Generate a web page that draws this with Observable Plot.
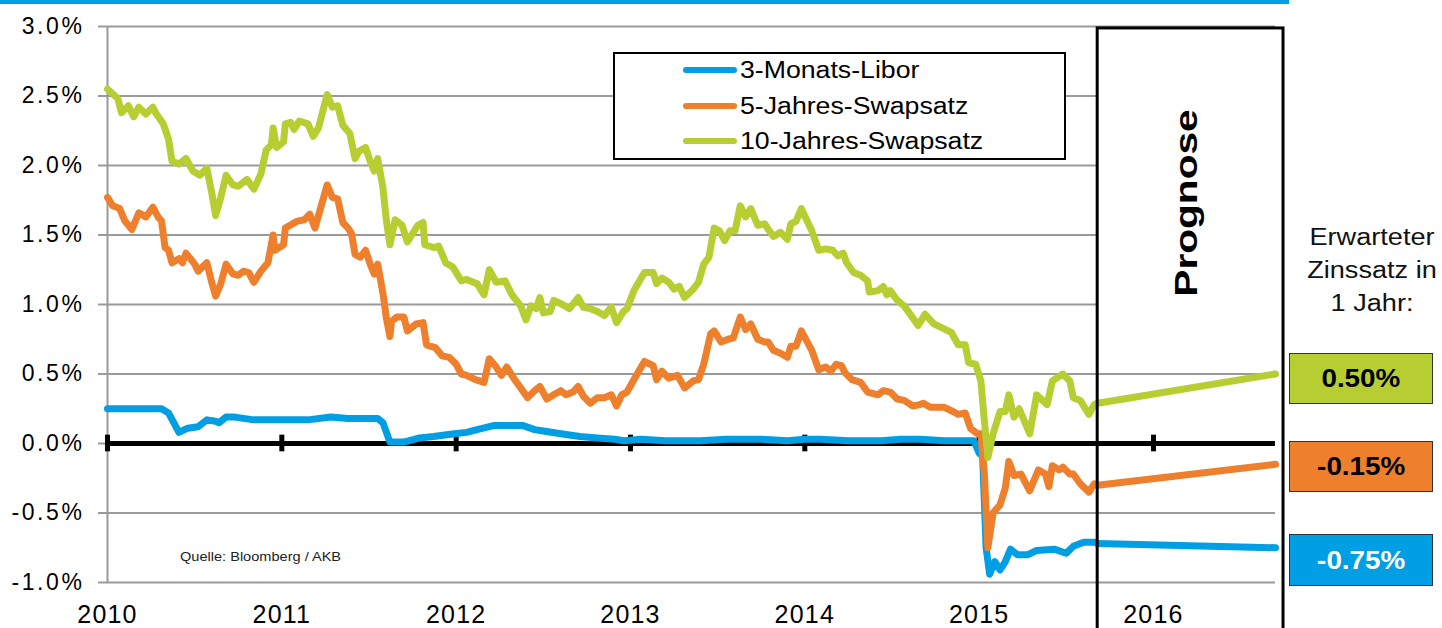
<!DOCTYPE html>
<html>
<head>
<meta charset="utf-8">
<script src="https://cdn.jsdelivr.net/npm/d3@7"></script>
<script src="https://cdn.jsdelivr.net/npm/@observablehq/plot@0.6"></script>
<style>
  html, body { margin: 0; padding: 0; background: #fff; }
  body { font-family: "Liberation Sans", Arial, Helvetica, sans-serif; color: #111; }
  #wrap { position: relative; width: 1442px; height: 628px; overflow: hidden; }
  #wrap > svg { position: absolute; left: 0; top: 0; }
  #wrap g[aria-label="y-axis tick label"] text { letter-spacing: 2.6px; }
  #wrap g[aria-label="x-axis tick label"] text { letter-spacing: 1.2px; }
  .abs { position: absolute; }
  #topbar { left: 0; top: 0; width: 1289px; height: 3.5px; background: #009FE3; }
  #legend { left: 613px; top: 52px; width: 453px; height: 108px; box-sizing: border-box;
            border: 2px solid #000; background: #fff; }
  .swatch { position: absolute; left: 68px; width: 54px; height: 6px; border-radius: 3px; }
  .ltext { position: absolute; left: 125px; height: 30px; line-height: 30px; font-size: 23px;
           white-space: nowrap; transform: scaleX(1.16); transform-origin: 0 50%; color: #000; }
  #prognose { left: 1086px; top: 183px; width: 200px; height: 40px; line-height: 40px; text-align: center;
              font-weight: bold; font-size: 32px; color: #000; transform: rotate(-90deg) scaleX(1.27);
              transform-origin: 50% 50%; white-space: nowrap; }
  #expected { left: 1272px; top: 221px; width: 200px; text-align: center; font-size: 23px; line-height: 33px;
              color: #111; transform: scaleX(1.18); transform-origin: 50% 0; }
  .vbox { position: absolute; left: 1289px; width: 144px; box-sizing: border-box; border: 1.5px solid #333;
          display: flex; align-items: center; justify-content: center; font-weight: bold; font-size: 26px; }
  .vbox span { display: inline-block; transform: scaleX(1.07); }
  #quelle { left: 180px; top: 550px; font-size: 13px; line-height: 13px; color: #222; white-space: nowrap;
            transform: scaleX(1.12); transform-origin: 0 0; }
</style>
</head>
<body>
<div id="wrap"></div>
<script>
// ---------------- data ----------------
const seriesNames = ["3-Monats-Libor", "5-Jahres-Swapsatz", "10-Jahres-Swapsatz"];
const seriesColors = ["#009FE3", "#EE7F2C", "#B7CE33"];
const yTicks = [-1, -0.5, 0, 0.5, 1, 1.5, 2, 2.5, 3];
const years = [2010, 2011, 2012, 2013, 2014, 2015, 2016];

// [decimal year, percent]
const libor3m = [
[2010.00,0.25],[2010.15,0.25],[2010.31,0.25],[2010.35,0.22],[2010.41,0.08],[2010.46,0.11],[2010.52,0.12],
[2010.57,0.17],[2010.62,0.16],[2010.64,0.15],[2010.68,0.19],[2010.73,0.19],[2010.84,0.17],[2011.03,0.17],
[2011.15,0.17],[2011.28,0.19],[2011.38,0.18],[2011.55,0.18],[2011.58,0.15],[2011.62,0.01],[2011.70,0.01],
[2011.79,0.04],[2011.87,0.05],[2011.99,0.07],[2012.06,0.08],[2012.12,0.10],[2012.22,0.13],[2012.38,0.13],
[2012.45,0.10],[2012.50,0.09],[2012.60,0.07],[2012.71,0.05],[2012.81,0.04],[2012.91,0.03],[2012.96,0.02],
[2013.06,0.03],[2013.20,0.02],[2013.40,0.02],[2013.55,0.03],[2013.75,0.03],[2013.90,0.02],[2014.00,0.03],
[2014.09,0.03],[2014.25,0.02],[2014.44,0.02],[2014.55,0.03],[2014.66,0.03],[2014.80,0.02],[2014.94,0.02],
[2014.97,0.02],[2015.00,-0.07],[2015.02,-0.09],[2015.04,-0.75],[2015.06,-0.94],[2015.09,-0.85],[2015.12,-0.91],
[2015.15,-0.85],[2015.18,-0.76],[2015.22,-0.80],[2015.28,-0.80],[2015.33,-0.77],[2015.43,-0.76],[2015.50,-0.79],
[2015.54,-0.74],[2015.60,-0.71],[2015.67,-0.71],[2015.68,-0.72]
];

const swap5y = [
[2010.00,1.77],[2010.03,1.71],[2010.07,1.69],[2010.10,1.60],[2010.14,1.54],[2010.18,1.66],[2010.22,1.63],
[2010.26,1.70],[2010.29,1.63],[2010.31,1.60],[2010.33,1.41],[2010.35,1.39],[2010.37,1.30],[2010.41,1.33],
[2010.43,1.30],[2010.45,1.37],[2010.50,1.29],[2010.52,1.24],[2010.57,1.30],[2010.60,1.15],[2010.62,1.06],
[2010.65,1.15],[2010.68,1.29],[2010.72,1.22],[2010.75,1.21],[2010.78,1.24],[2010.81,1.23],[2010.84,1.16],
[2010.88,1.24],[2010.92,1.30],[2010.95,1.50],[2010.96,1.39],[2011.01,1.43],[2011.02,1.55],[2011.06,1.58],
[2011.09,1.60],[2011.13,1.61],[2011.16,1.65],[2011.19,1.55],[2011.26,1.86],[2011.29,1.77],[2011.32,1.76],
[2011.35,1.59],[2011.38,1.55],[2011.40,1.51],[2011.42,1.36],[2011.45,1.34],[2011.48,1.39],[2011.51,1.28],
[2011.53,1.22],[2011.55,1.29],[2011.58,1.08],[2011.60,0.90],[2011.62,0.77],[2011.63,0.88],[2011.66,0.91],
[2011.70,0.91],[2011.72,0.81],[2011.77,0.86],[2011.81,0.87],[2011.83,0.71],[2011.88,0.69],[2011.92,0.63],
[2011.96,0.62],[2012.00,0.57],[2012.03,0.50],[2012.06,0.49],[2012.11,0.46],[2012.16,0.44],[2012.19,0.61],
[2012.23,0.55],[2012.26,0.49],[2012.29,0.55],[2012.33,0.47],[2012.37,0.40],[2012.41,0.33],[2012.45,0.38],
[2012.48,0.41],[2012.52,0.32],[2012.56,0.35],[2012.60,0.38],[2012.63,0.35],[2012.67,0.37],[2012.70,0.41],
[2012.73,0.34],[2012.77,0.29],[2012.81,0.33],[2012.85,0.33],[2012.89,0.35],[2012.92,0.27],[2012.95,0.35],
[2012.98,0.37],[2013.02,0.46],[2013.08,0.59],[2013.13,0.56],[2013.15,0.46],[2013.18,0.52],[2013.22,0.47],
[2013.27,0.49],[2013.31,0.40],[2013.36,0.45],[2013.39,0.46],[2013.42,0.57],[2013.46,0.79],[2013.48,0.81],
[2013.52,0.73],[2013.56,0.75],[2013.59,0.76],[2013.63,0.91],[2013.66,0.82],[2013.69,0.86],[2013.73,0.75],
[2013.77,0.73],[2013.79,0.73],[2013.82,0.67],[2013.86,0.65],[2013.90,0.62],[2013.92,0.70],[2013.95,0.70],
[2013.98,0.81],[2014.01,0.74],[2014.04,0.67],[2014.08,0.53],[2014.12,0.55],[2014.15,0.52],[2014.18,0.57],
[2014.21,0.56],[2014.23,0.51],[2014.27,0.46],[2014.32,0.44],[2014.36,0.37],[2014.42,0.35],[2014.45,0.38],
[2014.49,0.37],[2014.53,0.32],[2014.57,0.31],[2014.62,0.27],[2014.66,0.28],[2014.68,0.29],[2014.72,0.26],
[2014.76,0.26],[2014.80,0.26],[2014.85,0.23],[2014.88,0.21],[2014.92,0.22],[2014.95,0.11],[2014.99,0.07],
[2015.01,0.07],[2015.03,-0.22],[2015.05,-0.75],[2015.08,-0.50],[2015.12,-0.44],[2015.15,-0.32],[2015.17,-0.13],
[2015.20,-0.23],[2015.24,-0.22],[2015.29,-0.34],[2015.34,-0.19],[2015.38,-0.22],[2015.40,-0.31],[2015.42,-0.16],
[2015.46,-0.19],[2015.48,-0.17],[2015.52,-0.22],[2015.54,-0.22],[2015.58,-0.29],[2015.63,-0.35],[2015.66,-0.29],
[2015.68,-0.30]
];

const swap10y = [
[2010.00,2.55],[2010.06,2.48],[2010.08,2.38],[2010.12,2.43],[2010.15,2.35],[2010.18,2.42],[2010.22,2.37],
[2010.26,2.42],[2010.28,2.37],[2010.32,2.30],[2010.35,2.19],[2010.37,2.03],[2010.41,2.01],[2010.45,2.05],
[2010.49,1.96],[2010.53,1.93],[2010.57,1.98],[2010.60,1.79],[2010.62,1.64],[2010.65,1.77],[2010.68,1.93],
[2010.72,1.86],[2010.75,1.85],[2010.80,1.90],[2010.84,1.83],[2010.88,1.94],[2010.91,2.11],[2010.94,2.15],
[2010.95,2.27],[2010.97,2.13],[2011.01,2.17],[2011.02,2.30],[2011.05,2.31],[2011.07,2.26],[2011.10,2.32],
[2011.15,2.30],[2011.18,2.21],[2011.21,2.27],[2011.26,2.51],[2011.29,2.42],[2011.32,2.43],[2011.35,2.29],
[2011.39,2.23],[2011.42,2.05],[2011.44,2.10],[2011.48,2.13],[2011.51,2.02],[2011.53,1.96],[2011.55,2.05],
[2011.58,1.84],[2011.60,1.60],[2011.62,1.43],[2011.65,1.61],[2011.69,1.57],[2011.72,1.45],[2011.78,1.57],
[2011.81,1.59],[2011.82,1.43],[2011.87,1.41],[2011.90,1.42],[2011.94,1.30],[2011.98,1.27],[2012.03,1.17],
[2012.06,1.18],[2012.12,1.15],[2012.16,1.07],[2012.19,1.25],[2012.23,1.16],[2012.28,1.17],[2012.32,1.07],
[2012.37,0.99],[2012.40,0.89],[2012.43,0.99],[2012.46,0.97],[2012.48,1.05],[2012.50,0.94],[2012.54,0.95],
[2012.56,1.03],[2012.61,1.00],[2012.65,0.97],[2012.70,1.05],[2012.73,0.98],[2012.77,0.97],[2012.81,0.95],
[2012.85,0.92],[2012.89,0.98],[2012.92,0.87],[2012.96,0.95],[2012.98,0.97],[2013.02,1.10],[2013.08,1.23],
[2013.13,1.23],[2013.15,1.15],[2013.18,1.19],[2013.22,1.16],[2013.25,1.11],[2013.28,1.13],[2013.31,1.05],
[2013.36,1.11],[2013.39,1.16],[2013.42,1.29],[2013.45,1.34],[2013.48,1.55],[2013.51,1.53],[2013.54,1.46],
[2013.57,1.53],[2013.60,1.53],[2013.63,1.71],[2013.66,1.63],[2013.69,1.69],[2013.73,1.57],[2013.77,1.58],
[2013.79,1.54],[2013.82,1.49],[2013.86,1.52],[2013.90,1.47],[2013.92,1.58],[2013.95,1.60],[2013.98,1.69],
[2014.01,1.61],[2014.04,1.53],[2014.08,1.39],[2014.12,1.40],[2014.16,1.39],[2014.19,1.35],[2014.22,1.37],
[2014.24,1.30],[2014.28,1.23],[2014.32,1.21],[2014.36,1.17],[2014.37,1.09],[2014.42,1.10],[2014.45,1.13],
[2014.47,1.07],[2014.49,1.10],[2014.53,1.03],[2014.57,0.99],[2014.61,0.92],[2014.65,0.85],[2014.69,0.93],
[2014.74,0.86],[2014.79,0.83],[2014.84,0.80],[2014.88,0.71],[2014.92,0.71],[2014.94,0.58],[2014.98,0.57],
[2015.01,0.45],[2015.03,0.16],[2015.05,-0.10],[2015.08,0.07],[2015.12,0.23],[2015.15,0.23],[2015.17,0.35],
[2015.20,0.19],[2015.23,0.25],[2015.29,0.07],[2015.33,0.35],[2015.39,0.28],[2015.42,0.45],[2015.48,0.50],
[2015.52,0.45],[2015.54,0.33],[2015.58,0.31],[2015.63,0.21],[2015.66,0.28],[2015.68,0.29]
];

// forecast (Prognose) period
const forecastDates = [2015.68, 2016.70];
const libor3mForecast = [-0.72, -0.75];
const swap5yForecast = [-0.30, -0.15];
const swap10yForecast = [0.29, 0.50];
const expectedLabels = ["0.50%", "-0.15%", "-0.75%"];   // 10J, 5J, 3M
const prognoseBox = { x1: 2015.68, x2: 2016.746, top: 2.986, bottom: -1.5, whiteBottom: 0.75 };

// ---------------- build ----------------
const histSeries = [libor3m, swap5y, swap10y];
const fcSeries = [libor3mForecast, swap5yForecast, swap10yForecast];
const hist = histSeries.flatMap((arr, k) => arr.map(([t, v]) => ({ t, v, name: seriesNames[k] })));
const fc = fcSeries.flatMap((arr, k) => arr.map((v, i) => ({ t: forecastDates[i], v, name: seriesNames[k] })));

const GRID = "#9a9a9a";
const chart = Plot.plot({
  width: 1442,
  height: 628,
  marginLeft: 107,
  marginRight: 167,
  marginTop: 26,
  marginBottom: 46,
  style: { fontFamily: '"Liberation Sans", Arial, Helvetica, sans-serif', background: "transparent", overflow: "visible", color: "#000" },
  x: { domain: [2010, forecastDates[1]] },
  y: { domain: [-1, 3] },
  color: { domain: seriesNames, range: seriesColors },
  marks: [
    Plot.gridY(yTicks, { stroke: GRID, strokeOpacity: 1, strokeWidth: 2 }),
    Plot.axisY({ ticks: yTicks, tickSize: 9, tickPadding: 14, tickFormat: d => d.toFixed(1) + "%",
                 fontSize: 23, stroke: GRID, strokeOpacity: 1, strokeWidth: 2, fill: "#000" }),
    Plot.axisX({ ticks: years, tickSize: 0, tickPadding: 23, tickFormat: d => String(d), fontSize: 25, fill: "#000" }),
    Plot.ruleX([2010], { stroke: GRID, strokeWidth: 2 }),
    Plot.rect([prognoseBox], { x1: "x1", x2: d => d.x2 + 0.02, y1: "whiteBottom", y2: "top", fill: "white" }),
    Plot.ruleY([0], { stroke: "#000", strokeWidth: 5 }),
    Plot.ruleX(years, { y1: -0.06, y2: 0.06, stroke: "#000", strokeWidth: 5 }),
    Plot.line(hist, { x: "t", y: "v", z: "name", stroke: "name", strokeWidth: 7, strokeLinejoin: "round", strokeLinecap: "round" }),
    Plot.line(fc, { x: "t", y: "v", z: "name", stroke: "name", strokeWidth: 7, strokeLinejoin: "round", strokeLinecap: "round" }),
    Plot.rect([prognoseBox], { x1: "x1", x2: "x2", y1: "bottom", y2: "top", fill: "none", stroke: "#000", strokeWidth: 3 })
  ]
});

const wrap = document.getElementById("wrap");
wrap.appendChild(chart);

function add(html) { wrap.insertAdjacentHTML("beforeend", html); }
add(`<div id="topbar" class="abs"></div>`);

// legend
const rowCenters = [16, 51.5, 87];
let leg = `<div id="legend" class="abs">`;
seriesNames.forEach((n, i) => {
  leg += `<div class="swatch" style="top:${rowCenters[i] - 3}px;background:${seriesColors[i]}"></div>`;
  leg += `<div class="ltext" style="top:${rowCenters[i] - 15}px">${n}</div>`;
});
leg += `</div>`;
add(leg);

add(`<div id="prognose" class="abs">Prognose</div>`);
add(`<div id="expected" class="abs">Erwarteter<br>Zinssatz in<br>1 Jahr:</div>`);

const boxSpecs = [
  { label: expectedLabels[0], bg: seriesColors[2], fg: "#000", top: 353, h: 51 },
  { label: expectedLabels[1], bg: seriesColors[1], fg: "#000", top: 441, h: 51 },
  { label: expectedLabels[2], bg: seriesColors[0], fg: "#fff", top: 534, h: 52 }
];
boxSpecs.forEach(b => add(`<div class="vbox" style="top:${b.top}px;height:${b.h}px;background:${b.bg};color:${b.fg}"><span>${b.label}</span></div>`));

add(`<div id="quelle" class="abs">Quelle: Bloomberg / AKB</div>`);
</script>
</body>
</html>
